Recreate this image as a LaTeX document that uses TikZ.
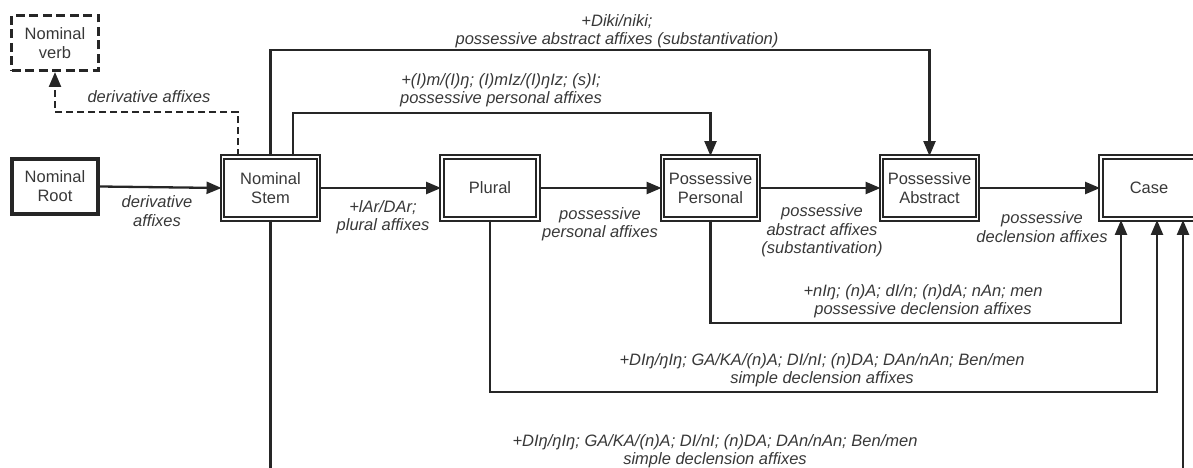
\documentclass[tikz,border=0pt]{standalone}
\usepackage{fontspec}
\setmainfont{Liberation Sans}
\usetikzlibrary{arrows.meta,calc}
\definecolor{lc}{HTML}{262626}
\definecolor{tc}{HTML}{383838}
\newcommand{\nodefont}{\fontsize{16.5}{19}\selectfont}
\newcommand{\labfont}{\fontsize{16.5}{18.5}\selectfont\itshape}
\tikzset{
  stagebox/.style={draw=lc, line width=1.9pt, double, double distance=1.8pt,
    minimum width=96pt, minimum height=62pt, inner sep=1pt, align=center,
    text=tc, font=\nodefont},
  rootbox/.style={draw=lc, line width=4.4pt, minimum width=86pt, minimum height=55pt,
    inner sep=1pt, align=center, text=tc, font=\nodefont},
  verbbox/.style={draw=lc, line width=3pt, dash pattern=on 9pt off 4.5pt,
    minimum width=87pt, minimum height=55pt, inner sep=1pt, align=center,
    text=tc, font=\nodefont},
  conn/.style={draw=lc, line width=2.3pt, -{Triangle[length=15pt,width=12pt]}},
  dconn/.style={conn, dash pattern=on 7pt off 4pt},
  lab/.style={font=\labfont, text=tc, align=center, inner sep=0pt},
}
\begin{document}
\begin{tikzpicture}[x=1pt,y=-1pt]
\useasboundingbox (0,0) rectangle (1193,468);
% nodes
\node[verbbox] (verb) at (55,43) {Nominal\\verb};
\node[rootbox] (root) at (55,186.5) {Nominal\\Root};
\node[stagebox] (stem) at (270.5,188) {Nominal\\Stem};
\node[stagebox] (plural) at (490,188) {Plural};
\node[stagebox] (pp) at (710.5,188) {Possessive\\Personal};
\node[stagebox] (pa) at (929.5,188) {Possessive\\Abstract};
\node[stagebox] (case) at (1149,188) {Case};
% coordinates
\coordinate (d1) at (238,112);
\coordinate (t1) at (270.5,50);
\coordinate (t2) at (293,113);
\coordinate (b1) at (1121,323);
\coordinate (b2) at (1157,392);
\coordinate (b3) at (1183,474);
% main chain
\draw[conn] (root.east) -- (stem.west);
\draw[conn] (stem.east) -- (plural.west);
\draw[conn] (plural.east) -- (pp.west);
\draw[conn] (pp.east) -- (pa.west);
\draw[conn] (pa.east) -- (case.west);
% dashed to nominal verb
\draw[dconn] (stem.north -| d1) -- (d1) -| (verb.south);
% top connectors
\draw[conn] (stem.north) -- (t1) -| (pa.north);
\draw[conn] (stem.north -| t2) -- (t2) -| (pp.north);
% bottom connectors
\draw[conn] (pp.south) |- (b1) -- (case.south -| b1);
\draw[conn] (plural.south) |- (b2) -- (case.south -| b2);
\draw[conn] (stem.south) |- (b3) -- (case.south -| b3);
% labels
\node[lab] (l1) at (149,97) {derivative affixes};
\node[lab] (l2) at (157,211) {derivative\\affixes};
\node[lab] (l3) at (617,31) {+Diki/niki;\\possessive abstract affixes (substantivation)};
\node[lab] (l4) at (501,90) {+(I)m/(I)ŋ; (I)mIz/(I)ŋIz; (s)I;\\possessive personal affixes};
\node[lab] (l5) at (383,217) {+lAr/DAr;\\plural affixes};
\node[lab] (l6) at (600,224) {possessive\\personal affixes};
\node[lab] (l7) at (822,231) {possessive\\abstract affixes\\(substantivation)};
\node[lab] (l8) at (1042,227) {possessive\\declension affixes};
\node[lab] (l9) at (923,301) {+nIŋ; (n)A; dI/n; (n)dA; nAn; men\\possessive declension affixes};
\node[lab] (l10) at (822,370) {+DIŋ/ŋIŋ; GA/KA/(n)A; DI/nI; (n)DA; DAn/nAn; Ben/men\\simple declension affixes};
\node[lab] (l11) at (715,451) {+DIŋ/ŋIŋ; GA/KA/(n)A; DI/nI; (n)DA; DAn/nAn; Ben/men\\simple declension affixes};
\end{tikzpicture}
\end{document}
